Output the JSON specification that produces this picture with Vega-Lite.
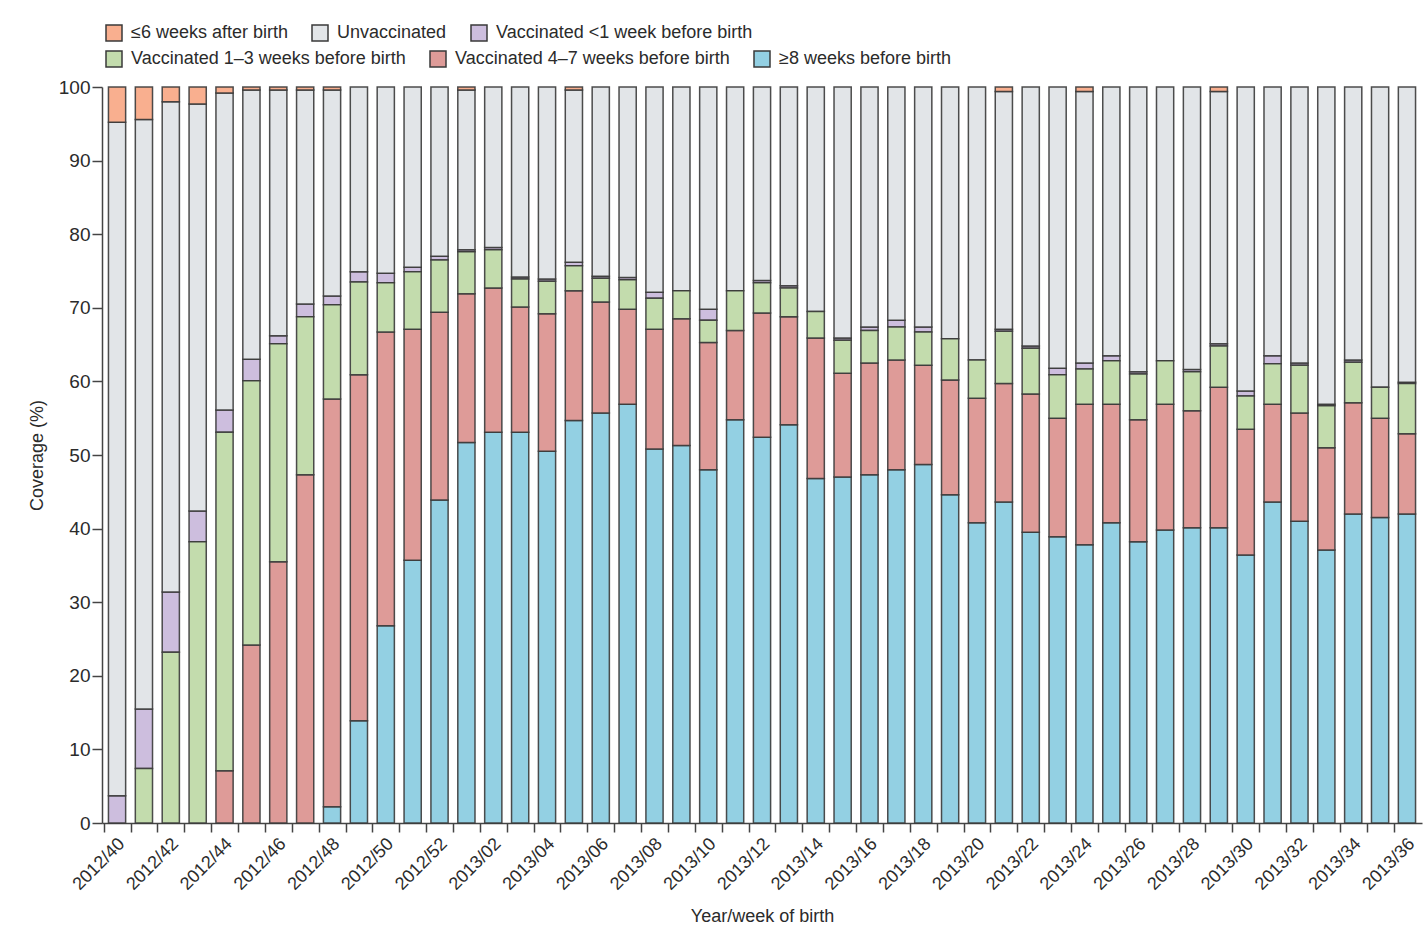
{
  "$schema": "https://vega.github.io/schema/vega-lite/v6.json",
  "width": 1320,
  "height": 736,
  "autosize": {"type": "none"},
  "padding": {"left": 102, "top": 87, "right": 5, "bottom": 111},
  "background": "white",
  "config": {
    "font": "Liberation Sans",
    "view": {"stroke": null},
    "axis": {"labelColor": "#2b2b2b", "titleColor": "#2b2b2b", "domainColor": "#444444", "tickColor": "#444444", "domainWidth": 1.5, "tickWidth": 1.5, "titleFontWeight": "normal", "grid": false},
    "legend": {
      "orient": "none",
      "direction": "horizontal",
      "columnPadding": 21,
      "symbolType": "square",
      "symbolSize": 256,
      "symbolStrokeColor": "#3a3a3a",
      "symbolStrokeWidth": 1.5,
      "symbolOpacity": 1,
      "labelFontSize": 18,
      "labelColor": "#2b2b2b",
      "labelOffset": 8,
      "labelLimit": 400
    }
  },
  "data": {
    "values": [
      {"wk": "2012/40", "ge8": 0, "w47": 0, "w13": 0, "lt1": 3.7, "unv": 91.5, "post": 4.8},
      {"wk": "2012/41", "ge8": 0, "w47": 0, "w13": 7.4, "lt1": 8.1, "unv": 80.1, "post": 4.4},
      {"wk": "2012/42", "ge8": 0, "w47": 0, "w13": 23.2, "lt1": 8.2, "unv": 66.6, "post": 2.0},
      {"wk": "2012/43", "ge8": 0, "w47": 0, "w13": 38.2, "lt1": 4.2, "unv": 55.3, "post": 2.3},
      {"wk": "2012/44", "ge8": 0, "w47": 7.1, "w13": 46.0, "lt1": 3.0, "unv": 43.1, "post": 0.8},
      {"wk": "2012/45", "ge8": 0, "w47": 24.2, "w13": 35.9, "lt1": 2.9, "unv": 36.6, "post": 0.4},
      {"wk": "2012/46", "ge8": 0, "w47": 35.5, "w13": 29.6, "lt1": 1.1, "unv": 33.4, "post": 0.4},
      {"wk": "2012/47", "ge8": 0, "w47": 47.3, "w13": 21.5, "lt1": 1.7, "unv": 29.1, "post": 0.4},
      {"wk": "2012/48", "ge8": 2.2, "w47": 55.4, "w13": 12.8, "lt1": 1.2, "unv": 28.0, "post": 0.4},
      {"wk": "2012/49", "ge8": 13.9, "w47": 47.0, "w13": 12.6, "lt1": 1.4, "unv": 25.1, "post": 0},
      {"wk": "2012/50", "ge8": 26.8, "w47": 39.9, "w13": 6.7, "lt1": 1.3, "unv": 25.3, "post": 0},
      {"wk": "2012/51", "ge8": 35.7, "w47": 31.4, "w13": 7.8, "lt1": 0.6, "unv": 24.5, "post": 0},
      {"wk": "2012/52", "ge8": 43.9, "w47": 25.5, "w13": 7.1, "lt1": 0.5, "unv": 23.0, "post": 0},
      {"wk": "2013/01", "ge8": 51.7, "w47": 20.2, "w13": 5.7, "lt1": 0.3, "unv": 21.7, "post": 0.4},
      {"wk": "2013/02", "ge8": 53.1, "w47": 19.6, "w13": 5.2, "lt1": 0.3, "unv": 21.8, "post": 0},
      {"wk": "2013/03", "ge8": 53.1, "w47": 17.0, "w13": 3.8, "lt1": 0.3, "unv": 25.8, "post": 0},
      {"wk": "2013/04", "ge8": 50.5, "w47": 18.7, "w13": 4.4, "lt1": 0.3, "unv": 26.1, "post": 0},
      {"wk": "2013/05", "ge8": 54.7, "w47": 17.6, "w13": 3.4, "lt1": 0.5, "unv": 23.4, "post": 0.4},
      {"wk": "2013/06", "ge8": 55.7, "w47": 15.1, "w13": 3.2, "lt1": 0.3, "unv": 25.7, "post": 0},
      {"wk": "2013/07", "ge8": 56.9, "w47": 12.9, "w13": 4.0, "lt1": 0.3, "unv": 25.9, "post": 0},
      {"wk": "2013/08", "ge8": 50.8, "w47": 16.3, "w13": 4.2, "lt1": 0.8, "unv": 27.9, "post": 0},
      {"wk": "2013/09", "ge8": 51.3, "w47": 17.2, "w13": 3.8, "lt1": 0, "unv": 27.7, "post": 0},
      {"wk": "2013/10", "ge8": 48.0, "w47": 17.3, "w13": 3.0, "lt1": 1.5, "unv": 30.2, "post": 0},
      {"wk": "2013/11", "ge8": 54.8, "w47": 12.1, "w13": 5.4, "lt1": 0, "unv": 27.7, "post": 0},
      {"wk": "2013/12", "ge8": 52.4, "w47": 16.9, "w13": 4.1, "lt1": 0.3, "unv": 26.3, "post": 0},
      {"wk": "2013/13", "ge8": 54.1, "w47": 14.7, "w13": 3.9, "lt1": 0.3, "unv": 27.0, "post": 0},
      {"wk": "2013/14", "ge8": 46.8, "w47": 19.1, "w13": 3.6, "lt1": 0, "unv": 30.5, "post": 0},
      {"wk": "2013/15", "ge8": 47.0, "w47": 14.1, "w13": 4.5, "lt1": 0.3, "unv": 34.1, "post": 0},
      {"wk": "2013/16", "ge8": 47.3, "w47": 15.2, "w13": 4.4, "lt1": 0.5, "unv": 32.6, "post": 0},
      {"wk": "2013/17", "ge8": 48.0, "w47": 14.9, "w13": 4.5, "lt1": 0.9, "unv": 31.7, "post": 0},
      {"wk": "2013/18", "ge8": 48.7, "w47": 13.5, "w13": 4.5, "lt1": 0.7, "unv": 32.6, "post": 0},
      {"wk": "2013/19", "ge8": 44.6, "w47": 15.6, "w13": 5.6, "lt1": 0, "unv": 34.2, "post": 0},
      {"wk": "2013/20", "ge8": 40.8, "w47": 16.9, "w13": 5.2, "lt1": 0, "unv": 37.1, "post": 0},
      {"wk": "2013/21", "ge8": 43.6, "w47": 16.1, "w13": 7.1, "lt1": 0.3, "unv": 32.3, "post": 0.6},
      {"wk": "2013/22", "ge8": 39.5, "w47": 18.8, "w13": 6.2, "lt1": 0.3, "unv": 35.2, "post": 0},
      {"wk": "2013/23", "ge8": 38.9, "w47": 16.1, "w13": 5.9, "lt1": 0.9, "unv": 38.2, "post": 0},
      {"wk": "2013/24", "ge8": 37.8, "w47": 19.1, "w13": 4.8, "lt1": 0.8, "unv": 36.9, "post": 0.6},
      {"wk": "2013/25", "ge8": 40.8, "w47": 16.1, "w13": 5.9, "lt1": 0.7, "unv": 36.5, "post": 0},
      {"wk": "2013/26", "ge8": 38.2, "w47": 16.6, "w13": 6.2, "lt1": 0.3, "unv": 38.7, "post": 0},
      {"wk": "2013/27", "ge8": 39.8, "w47": 17.1, "w13": 5.9, "lt1": 0, "unv": 37.2, "post": 0},
      {"wk": "2013/28", "ge8": 40.1, "w47": 15.9, "w13": 5.3, "lt1": 0.3, "unv": 38.4, "post": 0},
      {"wk": "2013/29", "ge8": 40.1, "w47": 19.1, "w13": 5.6, "lt1": 0.3, "unv": 34.3, "post": 0.6},
      {"wk": "2013/30", "ge8": 36.4, "w47": 17.1, "w13": 4.5, "lt1": 0.7, "unv": 41.3, "post": 0},
      {"wk": "2013/31", "ge8": 43.6, "w47": 13.3, "w13": 5.5, "lt1": 1.1, "unv": 36.5, "post": 0},
      {"wk": "2013/32", "ge8": 41.0, "w47": 14.7, "w13": 6.5, "lt1": 0.3, "unv": 37.5, "post": 0},
      {"wk": "2013/33", "ge8": 37.1, "w47": 13.9, "w13": 5.7, "lt1": 0.2, "unv": 43.1, "post": 0},
      {"wk": "2013/34", "ge8": 42.0, "w47": 15.1, "w13": 5.5, "lt1": 0.3, "unv": 37.1, "post": 0},
      {"wk": "2013/35", "ge8": 41.5, "w47": 13.5, "w13": 4.2, "lt1": 0, "unv": 40.8, "post": 0},
      {"wk": "2013/36", "ge8": 42.0, "w47": 10.9, "w13": 6.8, "lt1": 0.2, "unv": 40.1, "post": 0}
    ]
  },
  "transform": [
    {"fold": ["ge8", "w47", "w13", "lt1", "unv", "post"], "as": ["grp", "pct"]},
    {"filter": "datum.pct > 0"},
    {"calculate": "indexof(['ge8','w47','w13','lt1','unv','post'], datum.grp)", "as": "ord"},
    {"stack": "pct", "groupby": ["wk"], "sort": [{"field": "ord", "order": "ascending"}], "as": ["y0", "y1"]}
  ],
  "encoding": {
    "x": {
      "field": "wk", "type": "ordinal",
      "scale": {"paddingInner": 0.36, "paddingOuter": 0.24},
      "axis": {
        "title": "Year/week of birth",
        "titleFontSize": 18,
        "titlePadding": 14,
        "labelAngle": -45,
        "labelAlign": "right",
        "labelBaseline": "middle",
        "labelFontSize": 18,
        "labelPadding": 9,
        "tickSize": 9,
        "tickOffset": -13.4,
        "labelOffset": 18,
        "labelExpr": "toNumber(slice(datum.value, 5)) % 2 == 0 ? datum.value : ''"
      }
    },
    "y": {
      "field": "y0", "type": "quantitative",
      "scale": {"domain": [0, 100], "nice": false},
      "axis": {
        "title": "Coverage (%)",
        "titleFontSize": 18,
        "titlePadding": 12,
        "values": [0, 10, 20, 30, 40, 50, 60, 70, 80, 90, 100],
        "labelFontSize": 19,
        "labelPadding": 2,
        "tickSize": 10
      }
    },
    "y2": {"field": "y1"}
  },
  "layer": [
    {
      "transform": [{"filter": "datum.ord >= 3"}],
      "mark": {"type": "bar", "stroke": "#3a3a3a", "strokeWidth": 1.5, "strokeOpacity": 0.9},
      "encoding": {
        "color": {
          "field": "grp", "type": "nominal",
          "scale": {"domain": ["post", "unv", "lt1"], "range": ["#F9AF8F", "#E2E5E8", "#CDBEDE"]},
          "legend": {
            "title": null,
            "legendX": 3,
            "legendY": -63,
            "labelExpr": "{'post': '≤6 weeks after birth', 'unv': 'Unvaccinated', 'lt1': 'Vaccinated <1 week before birth'}[datum.value]"
          }
        }
      }
    },
    {
      "transform": [{"filter": "datum.ord < 3"}],
      "mark": {"type": "bar", "stroke": "#3a3a3a", "strokeWidth": 1.5, "strokeOpacity": 0.9},
      "encoding": {
        "color": {
          "field": "grp", "type": "nominal",
          "scale": {"domain": ["w13", "w47", "ge8"], "range": ["#C3DCAD", "#DE9B98", "#93D0E3"]},
          "legend": {
            "title": null,
            "legendX": 3,
            "legendY": -37,
            "labelExpr": "{'w13': 'Vaccinated 1–3 weeks before birth', 'w47': 'Vaccinated 4–7 weeks before birth', 'ge8': '≥8 weeks before birth'}[datum.value]"
          }
        }
      }
    }
  ],
  "resolve": {"scale": {"color": "independent"}}
}
